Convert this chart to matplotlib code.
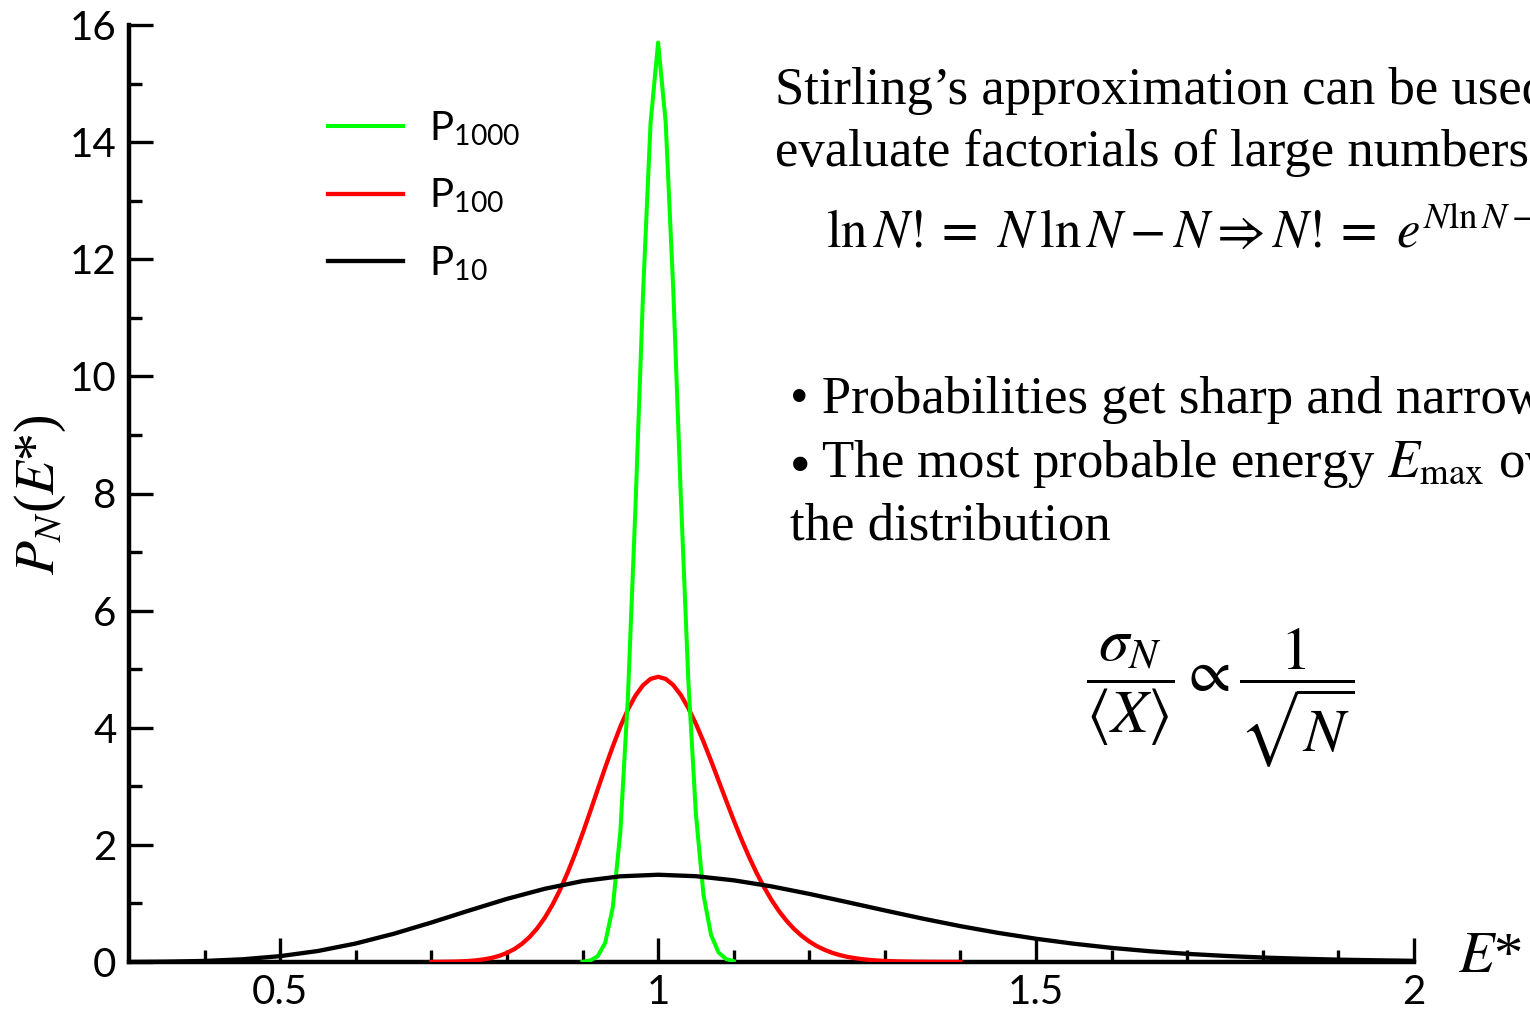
import matplotlib
matplotlib.use("Agg")
import matplotlib.pyplot as plt
import numpy as np

plt.rcParams["mathtext.fontset"] = "stix"
plt.rcParams["font.family"] = ["Lato", "DejaVu Sans"]

# values
e_10 = [0.30, 0.35, 0.40, 0.45, 0.50, 0.55, 0.60, 0.65, 0.70, 0.75, 0.80, 0.85,
        0.90, 0.95, 1.00, 1.05, 1.10, 1.15, 1.20, 1.25, 1.30, 1.35, 1.40, 1.45,
        1.50, 1.55, 1.60, 1.65, 1.70, 1.75, 1.80, 1.85, 1.90, 1.95, 2.00]
p_10 = [0.001, 0.006, 0.018, 0.046, 0.100, 0.188, 0.316, 0.481, 0.674, 0.879,
        1.078, 1.250, 1.382, 1.463, 1.490, 1.465, 1.395, 1.291, 1.163, 1.023,
        0.880, 0.741, 0.612, 0.497, 0.397, 0.312, 0.241, 0.184, 0.139, 0.104,
        0.076, 0.056, 0.040, 0.029, 0.020]

e_100 = [0.70, 0.71, 0.72, 0.73, 0.74, 0.75, 0.76, 0.77, 0.78, 0.79,
         0.80, 0.81, 0.82, 0.83, 0.84, 0.85, 0.86, 0.87, 0.88, 0.89,
         0.90, 0.91, 0.92, 0.93, 0.94, 0.95, 0.96, 0.97, 0.98, 0.99,
         1.00, 1.01, 1.02, 1.03, 1.04, 1.05, 1.06, 1.07, 1.08, 1.09,
         1.10, 1.11, 1.12, 1.13, 1.14, 1.15, 1.16, 1.17, 1.18, 1.19,
         1.20, 1.21, 1.22, 1.23, 1.24, 1.25, 1.26, 1.27, 1.28, 1.29,
         1.30, 1.32, 1.34, 1.36, 1.38, 1.40]
p_100 = [0.001, 0.002, 0.004, 0.006, 0.011, 0.018, 0.029, 0.046, 0.070, 0.106,
         0.155, 0.222, 0.312, 0.427, 0.574, 0.754, 0.971, 1.226, 1.517, 1.841,
         2.191, 2.563, 2.943, 3.321, 3.680, 4.018, 4.310, 4.548, 4.725, 4.834,
         4.870, 4.834, 4.729, 4.560, 4.336, 4.066, 3.764, 3.436, 3.096, 2.756,
         2.421, 2.102, 1.803, 1.528, 1.280, 1.059, 0.867, 0.702, 0.562, 0.446,
         0.350, 0.271, 0.209, 0.158, 0.119, 0.089, 0.066, 0.048, 0.035, 0.025,
         0.018, 0.009, 0.004, 0.002, 0.001, 0.000]

e_1000 = [0.90, 0.91, 0.92, 0.93, 0.94, 0.95, 0.96, 0.97, 0.98, 0.99, 1.00,
          1.01, 1.02, 1.03, 1.04, 1.05, 1.06, 1.07, 1.08, 1.09, 1.10]
p_1000 = [0.005, 0.024, 0.097, 0.328, 0.93, 2.22, 4.51, 7.76, 11.40, 14.33, 15.70,
          14.34, 11.49, 7.97, 4.80, 2.52, 1.15, 0.462, 0.162, 0.050, 0.014]

x_ticks = [0.5, 1.0, 1.5, 2.0]
x_tick_labels = ["0.5", "1", "1.5", "2"]
y_ticks = [0, 2, 4, 6, 8, 10, 12, 14, 16]

W, H = 1530, 1011
serif = ["Liberation Serif", "DejaVu Serif"]


def fx(px):
    return px / W


def fy(py):
    return 1 - py / H


fig = plt.figure(figsize=(W / 100, H / 100), dpi=100)
ax = fig.add_axes([fx(129), fy(962), (1414 - 129) / W, (962 - 25) / H])

l100, = ax.plot(e_100, p_100, color="#ff0000", lw=3.1, zorder=3)
l1000, = ax.plot(e_1000, p_1000, color="#00ff00", lw=2.9, zorder=3)
l10, = ax.plot(e_10, p_10, color="black", lw=3.1, zorder=3)

ax.set_xlim(0.3, 2.0)
ax.set_ylim(0, 16)
for side in ["top", "right"]:
    ax.spines[side].set_visible(False)
for side in ["left", "bottom"]:
    ax.spines[side].set_linewidth(3.2)

ax.set_xticks(x_ticks)
ax.set_xticklabels(x_tick_labels)
ax.set_xticks(np.arange(0.4, 2.0, 0.1), minor=True)
ax.set_yticks(y_ticks)
ax.set_yticks(range(1, 16, 2), minor=True)
ax.tick_params(which="major", direction="in", length=17, width=2.4,
               labelsize=29)
ax.tick_params(which="minor", direction="in", length=9, width=2.4)
ax.tick_params(axis="x", pad=9)
ax.tick_params(axis="y", pad=9)

leg = ax.legend([l1000, l100, l10],
                [r"P$_{\mathregular{1000}}$", r"P$_{\mathregular{100}}$",
                 r"P$_{\mathregular{10}}$"],
                loc="center left", bbox_to_anchor=((328 - 129) / 1285, 0.8175),
                frameon=False, fontsize=29, handlelength=1.85,
                handletextpad=0.65, labelspacing=0.72, borderpad=0,
                borderaxespad=0)

# axis labels
fig.text(fx(1458), fy(958), r"$E$*", fontsize=42, family=serif,
         ha="left", va="center")
fig.text(fx(40), fy(495), r"$P_N$($E$*)", fontsize=40, family=serif,
         rotation=90, ha="center", va="center")

# annotation text
fs = 38
fig.text(fx(775), fy(104), "Stirling\u2019s approximation can be used",
         fontsize=fs, family=serif, va="baseline")
fig.text(fx(775), fy(166), "evaluate factorials of large numbers",
         fontsize=fs, family=serif, va="baseline")
fig.text(fx(826), fy(248),
         r"$\ln N!{=}\ N\,\ln N - N \Rightarrow N!{=}\ e^{N\ln N-N}$",
         fontsize=fs, family=serif, va="baseline")
fig.text(fx(790), fy(413), "\u2022 Probabilities get sharp and narrower",
         fontsize=fs, family=serif, va="baseline")
fig.text(fx(790), fy(477), r"$\bullet$ The most probable energy $E_{\mathrm{max}}$ over",
         fontsize=fs, family=serif, va="baseline")
fig.text(fx(790), fy(540), "the distribution",
         fontsize=fs, family=serif, va="baseline")
fig.text(fx(1220), fy(698),
         r"$\dfrac{\sigma_N}{\left\langle X \right\rangle}\propto\dfrac{1}{\sqrt{N}}$",
         fontsize=44, family=serif, ha="center", va="center")

fig.savefig("out.png", dpi=100)
